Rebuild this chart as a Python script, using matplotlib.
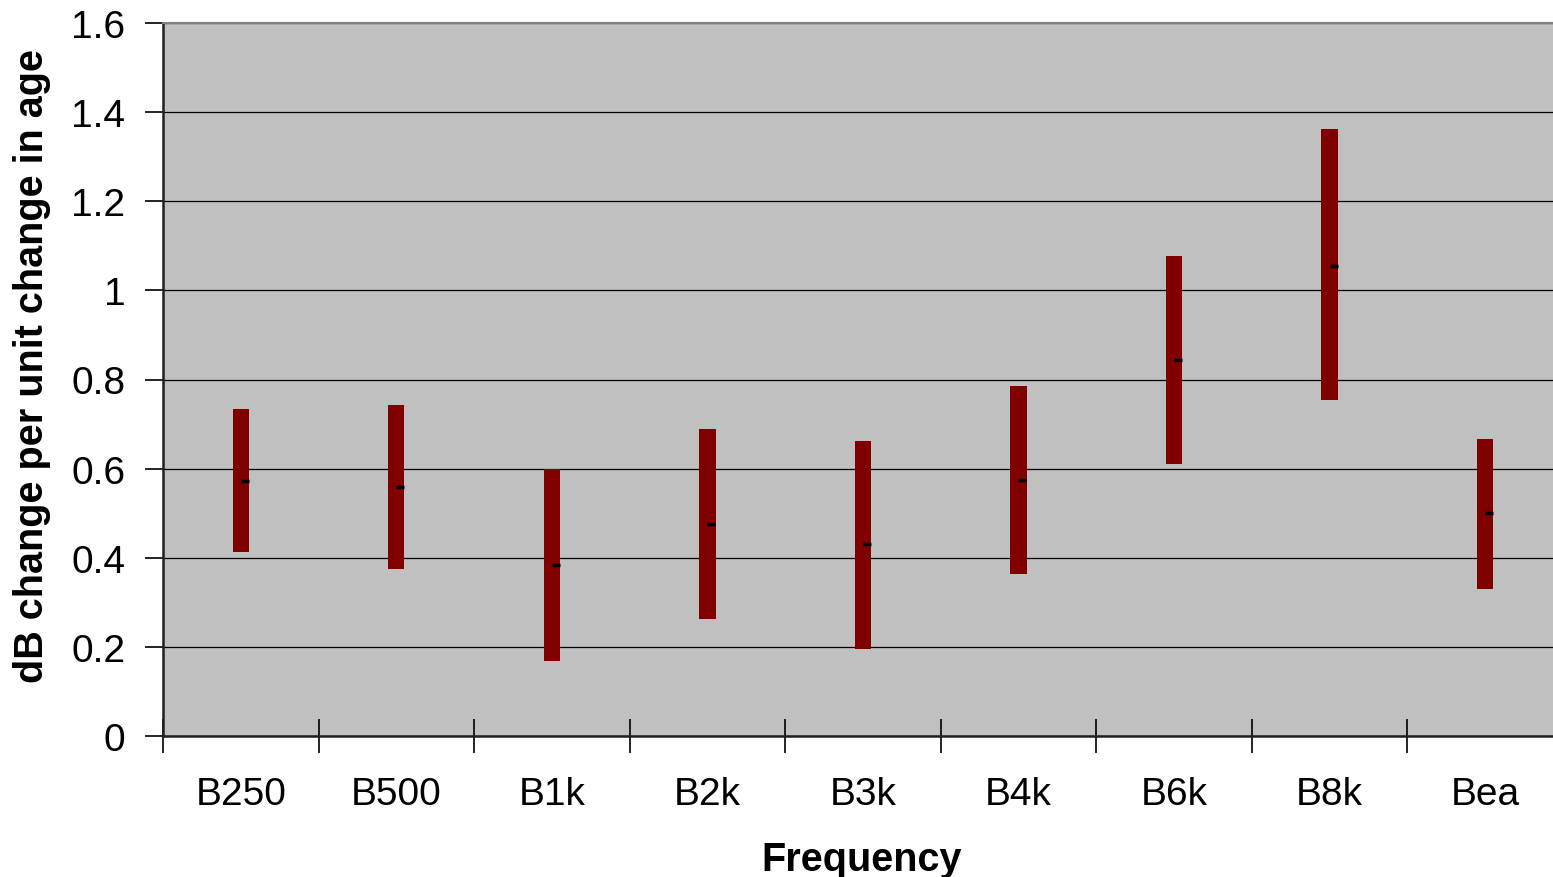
import numpy as np
import matplotlib.pyplot as plt

plt.rcParams['font.family'] = ['Liberation Sans', 'DejaVu Sans']

# data
categories = ['B250', 'B500', 'B1k', 'B2k', 'B3k', 'B4k', 'B6k', 'B8k', 'Bea']
upper = [0.734, 0.743, 0.599, 0.689, 0.662, 0.785, 1.077, 1.362, 0.667]
lower = [0.413, 0.375, 0.168, 0.263, 0.195, 0.364, 0.610, 0.754, 0.330]
estimate = [0.572, 0.559, 0.384, 0.476, 0.431, 0.575, 0.844, 1.055, 0.500]

W, H = 1553, 878
fig = plt.figure(figsize=(W / 100, H / 100), dpi=100)
# plot area runs a little past the right edge of the image, as in the original
ax = fig.add_axes([163 / W, (H - 737) / H, 1400 / W, 713 / H])
ax.set_facecolor('#c0c0c0')

x = np.arange(len(categories))
up = np.array(upper)
lo = np.array(lower)
ax.bar(x, up - lo, bottom=lo, width=0.105, color='#800000', zorder=3)
ax.plot(x + 0.025, estimate, linestyle='none', marker='_', markersize=6,
        markeredgewidth=2.5, color='black', zorder=4)

ax.set_xlim(-0.5, len(categories) - 0.5)
ax.set_ylim(0, 1.6)
ax.set_yticks(np.arange(0, 1.61, 0.2))
ax.set_yticklabels(['0', '0.2', '0.4', '0.6', '0.8', '1', '1.2', '1.4', '1.6'])
ax.yaxis.grid(True, color='black', linewidth=0.9, zorder=1)
ax.set_axisbelow(True)

# category boundaries as crossing ticks, labels centered in between
ax.set_xticks(np.arange(-0.5, len(categories), 1.0))
ax.set_xticklabels([])
ax.set_xticks(x, minor=True)
ax.set_xticklabels(categories, minor=True)
ax.tick_params(axis='x', which='major', direction='inout', length=24, width=1.2, color='black')
ax.tick_params(axis='x', which='minor', length=0, pad=29, labelsize=28)
ax.tick_params(axis='y', direction='out', length=13, width=1.2, pad=14, labelsize=28)

for s in ['left', 'bottom']:
    ax.spines[s].set_linewidth(1.8)
    ax.spines[s].set_color('#202020')
ax.spines['top'].set_color('#808080')
ax.spines['top'].set_linewidth(1.5)
ax.spines['right'].set_visible(False)

ax.set_ylabel('dB change per unit change in age', fontsize=28.5, fontweight='bold')
ax.yaxis.set_label_coords(-0.08, 0.52)
ax.set_xlabel('Frequency', fontsize=28.5, fontweight='bold')
ax.xaxis.set_label_coords(0.499, -0.172)
ax.xaxis.label.set_verticalalignment('center')

fig.savefig('out.png', dpi=100)
